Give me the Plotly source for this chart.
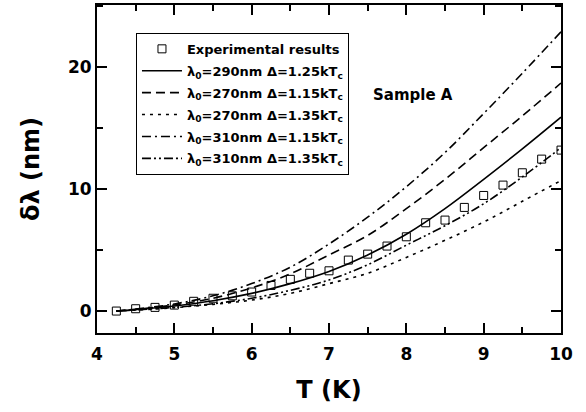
import plotly.graph_objects as go

# experimental points
t_exp = [4.25, 4.5, 4.75, 5.0, 5.25, 5.5, 5.75, 6.0, 6.25, 6.5, 6.75, 7.0,
         7.25, 7.5, 7.75, 8.0, 8.25, 8.5, 8.75, 9.0, 9.25, 9.5, 9.75, 10.0]
dl_exp = [0.0, 0.19, 0.3, 0.49, 0.8, 1.05, 1.25, 1.56, 2.1, 2.6, 3.1, 3.3,
          4.18, 4.67, 5.33, 6.09, 7.24, 7.46, 8.5, 9.48, 10.33, 11.34, 12.46, 13.2]

# model curves
t_model = [4.25, 4.5, 5.0, 5.5, 6.0, 6.5, 7.0, 7.5, 8.0, 8.5, 9.0, 9.5, 10.0]
dl_290_125 = [0, 0.12, 0.42, 0.85, 1.45, 2.25, 3.25, 4.6, 6.3, 8.4, 10.8, 13.3, 15.9]
dl_270_115 = [0, 0.14, 0.5, 1.05, 1.9, 3.05, 4.6, 6.2, 8.4, 10.8, 13.4, 16.0, 18.7]
dl_270_135 = [0, 0.08, 0.28, 0.55, 0.9, 1.45, 2.25, 3.1, 4.4, 5.8, 7.3, 9.0, 10.7]
dl_310_115 = [0, 0.16, 0.58, 1.25, 2.25, 3.6, 5.5, 7.7, 10.2, 13.0, 16.2, 19.5, 22.9]
dl_310_135 = [0, 0.09, 0.3, 0.6, 1.05, 1.7, 2.55, 3.8, 5.4, 7.0, 8.8, 11.0, 13.4]

font = "DejaVu Sans, Arial, sans-serif"

fig = go.Figure()

fig.add_trace(go.Scatter(
    x=t_exp, y=dl_exp, mode="markers", name="Experimental results", legendgroup="exp",
    marker=dict(symbol="square-open", size=8, color="black", line=dict(width=1))
))

curves = [
    ("λ<sub>0</sub>=290nm Δ=1.25kT<sub>c</sub>", dl_290_125, "solid"),
    ("λ<sub>0</sub>=270nm Δ=1.15kT<sub>c</sub>", dl_270_115, "9px,5px"),
    ("λ<sub>0</sub>=270nm Δ=1.35kT<sub>c</sub>", dl_270_135, "3px,5px"),
    ("λ<sub>0</sub>=310nm Δ=1.15kT<sub>c</sub>", dl_310_115, "9px,4px,2px,4px"),
    ("λ<sub>0</sub>=310nm Δ=1.35kT<sub>c</sub>", dl_310_135, "9px,3px,2px,3px,2px,3px"),
]
for i, (name, vals, dash) in enumerate(curves):
    fig.add_trace(go.Scatter(
        x=t_model, y=vals, mode="lines", name=name, line_shape="spline",
        legendgroup=f"model{i}",
        line=dict(color="black", width=1.6, dash=dash)
    ))

fig.add_annotation(x=8.09, y=17.7, text="Sample A", showarrow=False,
                   font=dict(family=font, size=15, color="black", weight="bold"))

axis_common = dict(
    showline=True, linecolor="black", linewidth=2, mirror="allticks",
    ticks="inside", ticklen=10, tickwidth=2, tickcolor="black",
    showgrid=False, zeroline=False, automargin=False,
    tickfont=dict(family=font, size=17, color="black", weight="bold"),
)

fig.update_xaxes(
    range=[4, 10], dtick=1, **axis_common, ticklabelstandoff=5,
    minor=dict(dtick=0.5, ticks="inside", ticklen=6, tickwidth=2, tickcolor="black"),
    title=dict(text="T (K)", font=dict(family=font, size=24, color="black", weight="bold"),
               standoff=18),
)
fig.update_yaxes(
    range=[-1.8, 25.1], tickvals=[0, 10, 20], **axis_common,
    minor=dict(tickvals=[5, 15, 25], ticks="inside", ticklen=6, tickwidth=2, tickcolor="black"),
    title=dict(text="δλ (nm)", font=dict(family=font, size=24, color="black", weight="bold"),
               standoff=22),
)

fig.update_layout(
    width=586, height=412,
    margin=dict(l=97, r=25, t=5, b=79),
    plot_bgcolor="white", paper_bgcolor="white",
    font=dict(family=font, color="black"),
    legend=dict(
        x=0.084, y=0.915, xanchor="left", yanchor="top",
        bordercolor="black", borderwidth=1, bgcolor="white",
        font=dict(family=font, size=13, color="black", weight="bold"),
        itemwidth=40, tracegroupgap=2,
    ),
)

fig.write_html("out.html", config={"displayModeBar": False},
               post_script="document.body.style.margin='0';")
